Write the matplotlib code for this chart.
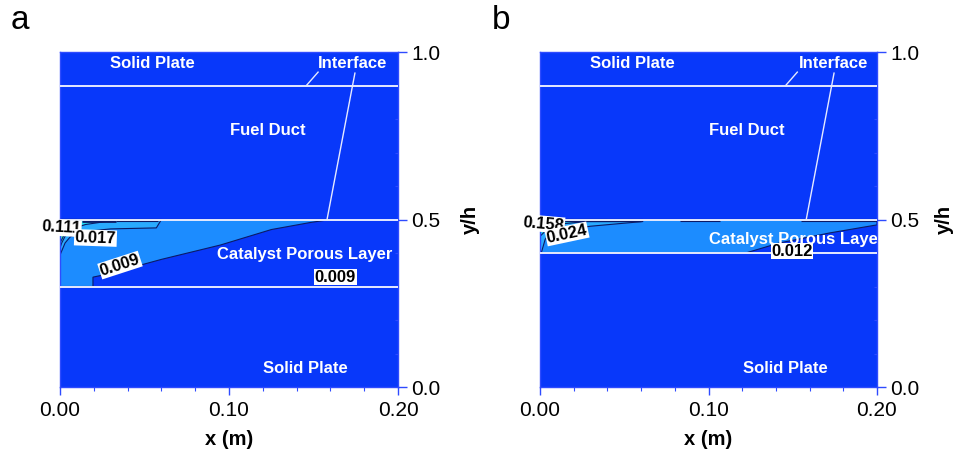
import matplotlib
matplotlib.use("Agg")
import matplotlib.pyplot as plt
from matplotlib.ticker import MultipleLocator, FixedLocator

plt.rcParams['font.family'] = ['Liberation Sans', 'DejaVu Sans']

# ---- geometry of the cell (y normalised by h, x in metres) ----
x_range = (0.0, 0.20)
interface_y = 0.9
layer_a = (0.3, 0.5)
layer_b = (0.4, 0.5)

# ---- filled contour regions, closed outlines (x, y) ----
# case a
a_lvl1_x = [0.0, 0.160, 0.148, 0.125, 0.095, 0.060, 0.028, 0.0195, 0.0195, 0.0]
a_lvl1_y = [0.5, 0.5, 0.491, 0.470, 0.424, 0.381, 0.337, 0.328, 0.300, 0.300]
a_lvl2_x = [0.0, 0.060, 0.057, 0.030, 0.012, 0.006, 0.003, 0.0]
a_lvl2_y = [0.5, 0.5, 0.475, 0.472, 0.463, 0.448, 0.430, 0.394]
a_lvl3_x = [0.0, 0.035, 0.015, 0.006, 0.003, 0.001, 0.0]
a_lvl3_y = [0.5, 0.5, 0.485, 0.470, 0.450, 0.430, 0.415]
a_lvl4_x = [0.0, 0.010, 0.005, 0.002, 0.0]
a_lvl4_y = [0.5, 0.5, 0.475, 0.450, 0.430]
# case b
b_lvl1_x = [0.0, 0.200, 0.200, 0.172, 0.142, 0.122, 0.0]
b_lvl1_y = [0.5, 0.5, 0.484, 0.460, 0.430, 0.400, 0.400]
b_lvl2_x = [0.0, 0.061, 0.061, 0.030, 0.006, 0.003, 0.001, 0.0]
b_lvl2_y = [0.5, 0.5, 0.494, 0.480, 0.463, 0.440, 0.405, 0.402]
b_lvl3_x = [0.0, 0.040, 0.015, 0.005, 0.001, 0.0]
b_lvl3_y = [0.5, 0.5, 0.488, 0.475, 0.455, 0.450]
b_lvl4_x = [0.0, 0.020, 0.006, 0.002, 0.0]
b_lvl4_y = [0.5, 0.5, 0.490, 0.480, 0.470]

# contour labels: text, x, y, rotation
a_labels = [("0.111", 0.0006, 0.475, -3), ("0.017", 0.021, 0.445, -2),
            ("0.009", 0.0355, 0.364, 18), ("0.009", 0.163, 0.328, 0)]
b_labels = [("0.158", 0.002, 0.487, -5), ("0.024", 0.016, 0.457, 12),
            ("0.012", 0.1496, 0.406, 0)]

# region names: text, x, y
a_names = [("Solid Plate", 0.0544, 0.967), ("Interface", 0.173, 0.967),
           ("Fuel Duct", 0.123, 0.767), ("Catalyst Porous Layer", 0.145, 0.397),
           ("Solid Plate", 0.145, 0.054)]
b_names = [("Solid Plate", 0.0546, 0.967), ("Interface", 0.174, 0.967),
           ("Fuel Duct", 0.123, 0.767), ("Catalyst Porous Layer", 0.1525, 0.440),
           ("Solid Plate", 0.1454, 0.054)]

# pointer from the "Interface" note to the two interfaces
ptr_short_x = [0.1527, 0.1456]
ptr_short_y = [0.940, 0.899]
ptr_long_x = [0.1745, 0.158]
ptr_long_y = [0.937, 0.500]

# packed contour lines at the top of the porous layer
a_streaks = [(0.013, 0.033, 2.0), (0.033, 0.058, 0.8)]
b_streaks = [(0.012, 0.060, 1.0), (0.083, 0.107, 0.8), (0.155, 0.200, 0.8)]

BG = '#0838FA'
LEVEL_COLORS = ['#1C8CFF', '#2AAAFF', '#22D8F0', '#50F0B0']
EDGE = '#0B1A66'
WHITE_LINE = '#E6EAFF'
AXIS_BLUE = '#2E4BFF'


def draw_panel(ax, layer, levels, labels, names, streaks, ylabel_x):
    ax.set_facecolor(BG)
    ax.set_xlim(*x_range)
    ax.set_ylim(0, 1)

    for (xs, ys), col in zip(levels, LEVEL_COLORS):
        ax.fill(xs, ys, facecolor=col, edgecolor=EDGE, linewidth=0.8, zorder=2)

    for x0, x1, lw in streaks:
        ax.plot([x0, x1], [0.496, 0.496], color=EDGE, lw=lw, zorder=3,
                solid_capstyle='butt')

    for yy in (interface_y, layer[1], layer[0]):
        ax.axhline(yy, color=WHITE_LINE, lw=1.4, zorder=4)

    ax.plot(ptr_short_x, ptr_short_y, color=WHITE_LINE, lw=1.0, zorder=4)
    ax.plot(ptr_long_x, ptr_long_y, color=WHITE_LINE, lw=1.0, zorder=4)

    for txt, x, y in names:
        ax.text(x, y, txt, color='white', fontsize=12, fontweight='bold',
                ha='center', va='center', zorder=5, clip_on=True)

    for txt, x, y, rot in labels:
        ax.text(x, y, txt, color='black', fontsize=12, fontweight='bold',
                ha='center', va='center', rotation=rot, zorder=6, clip_on=False,
                bbox=dict(boxstyle='square,pad=0.04', facecolor='white',
                          edgecolor='none'))

    for sp in ax.spines.values():
        sp.set_color(AXIS_BLUE)
        sp.set_linewidth(1.0)

    ax.yaxis.tick_right()
    ax.yaxis.set_label_position('right')
    ax.xaxis.set_major_locator(FixedLocator([0.0, 0.1, 0.2]))
    ax.set_xticklabels(['0.00', '0.10', '0.20'])
    ax.xaxis.set_minor_locator(MultipleLocator(0.02))
    ax.yaxis.set_major_locator(FixedLocator([0.0, 0.5, 1.0]))
    ax.set_yticklabels(['0.0', '0.5', '1.0'])
    ax.yaxis.set_minor_locator(MultipleLocator(0.1))

    ax.tick_params(axis='x', which='major', direction='out', length=5.5,
                   width=1.0, color=AXIS_BLUE, labelsize=15, pad=4.5)
    ax.tick_params(axis='x', which='minor', direction='out', length=3,
                   width=0.8, color=AXIS_BLUE)
    ax.tick_params(axis='y', which='major', direction='out', length=6.5,
                   width=1.0, color=AXIS_BLUE, labelsize=15, pad=3,
                   left=False, right=True)
    ax.tick_params(axis='y', which='minor', direction='in', length=2.5,
                   width=0.8, color=AXIS_BLUE, left=False, right=True)

    ax.set_xlabel('x (m)', fontsize=14.5, fontweight='bold')
    ax.xaxis.set_label_coords(0.5, -0.158)
    ax.xaxis.label.set_va('center')
    ax.set_ylabel('y/h', fontsize=14.5, fontweight='bold', rotation=90)
    ax.yaxis.set_label_coords(ylabel_x, 0.5)
    ax.yaxis.label.set_va('center')
    ax.yaxis.label.set_ha('center')


fig = plt.figure(figsize=(9.57, 4.62), dpi=100)
ax_a = fig.add_axes([0.0627, 0.1623, 0.3532, 0.7251])
ax_b = fig.add_axes([0.5643, 0.1623, 0.3521, 0.7251])

draw_panel(ax_a, layer_a,
           [(a_lvl1_x, a_lvl1_y), (a_lvl2_x, a_lvl2_y),
            (a_lvl3_x, a_lvl3_y), (a_lvl4_x, a_lvl4_y)],
           a_labels, a_names, a_streaks, 1.213)
draw_panel(ax_b, layer_b,
           [(b_lvl1_x, b_lvl1_y), (b_lvl2_x, b_lvl2_y),
            (b_lvl3_x, b_lvl3_y), (b_lvl4_x, b_lvl4_y)],
           b_labels, b_names, b_streaks, 1.200)

fig.text(0.0115, 0.937, 'a', fontsize=24, va='baseline', ha='left')
fig.text(0.514, 0.937, 'b', fontsize=24, va='baseline', ha='left')

fig.savefig('out.png', dpi=100)
